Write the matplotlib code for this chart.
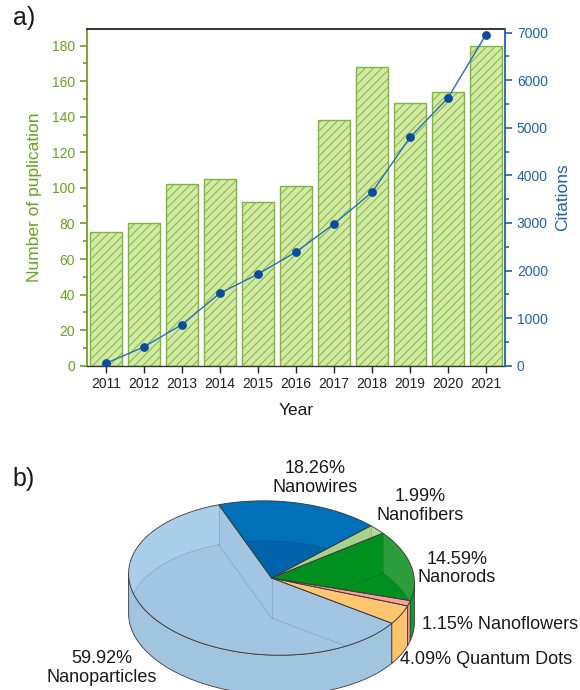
import numpy as np
import matplotlib
matplotlib.use("Agg")
import matplotlib.pyplot as plt
from matplotlib.patches import Polygon
from matplotlib.ticker import MultipleLocator

plt.rcParams['font.family'] = ['Liberation Sans', 'DejaVu Sans']
plt.rcParams['hatch.linewidth'] = 0.7

# ---- data -------------------------------------------------------------
years = [2011, 2012, 2013, 2014, 2015, 2016, 2017, 2018, 2019, 2020, 2021]
publications = [75, 80, 102, 105, 92, 101, 138, 168, 148, 154, 180]
citations = [50, 395, 865, 1525, 1925, 2390, 2980, 3645, 4800, 5630, 6960]

morph_labels = ["Nanoparticles", "Quantum Dots", "Nanoflowers",
                "Nanorods", "Nanofibers", "Nanowires"]
morph_shares = [59.92, 4.09, 1.15, 14.59, 1.99, 18.26]

# ---- styling ----------------------------------------------------------
GREEN = '#6aa121'
BLUE = '#1d62ae'
BAR_FACE = '#d2eaa6'
BAR_EDGE = '#80b63c'

# top face colour, see-through back-wall colour, front wall colour
slice_colors = {
    "Nanoparticles": ('#a2c6e1', '#abcee8', '#a1c4df'),
    "Quantum Dots": ('#ffc571', '#ffc571', '#ffc36c'),
    "Nanoflowers": ('#ff9c9c', '#ff9c9c', '#f58e8e'),
    "Nanorods": ('#00901f', '#2c9c3c', '#119a2c'),
    "Nanofibers": ('#a9d18e', '#b2d89a', '#a9d18e'),
    "Nanowires": ('#0063ab', '#0070b8', '#0063ab'),
}

W, H = 580, 690
fig = plt.figure(figsize=(W / 100, H / 100), dpi=100)

# ---- pie canvas in pixel units (drawn underneath) ---------------------
axp = fig.add_axes([0, 0, 1, 1])
axp.set_xlim(0, W)
axp.set_ylim(H, 0)
axp.axis('off')

CX, CY = 271.5, 578.0
RX, RY = 143.0, 77.0
DEPTH = 40.0
TILT = np.deg2rad(2.5)
START = 113.0
SIL = np.rad2deg(np.arctan((RY / RX) * np.tan(TILT)))


def ell(t_deg, dz=0.0):
    t = np.deg2rad(t_deg)
    x = RX * np.cos(t)
    y = -RY * np.sin(t)
    xr = x * np.cos(TILT) - y * np.sin(TILT)
    yr = x * np.sin(TILT) + y * np.cos(TILT)
    return (CX + xr, CY + yr + dz)


def arc(a, b, dz=0.0):
    n = max(3, int(abs(b - a) * 2) + 2)
    return [ell(t, dz) for t in np.linspace(a, b, n)]


def clip_range(a, b, lo, hi):
    lo2, hi2 = max(a, lo), min(b, hi)
    return (lo2, hi2) if hi2 > lo2 else None


back_ranges = [(SIL, SIL + 180), (SIL + 360, SIL + 540)]
front_ranges = [(SIL + 180, SIL + 360)]
EDGE = '#3c3c3c'

bounds = START + np.concatenate([[0], np.cumsum(morph_shares)]) * 3.6
for lab, a0, a1 in zip(morph_labels, bounds[:-1], bounds[1:]):
    main, strip, wall = slice_colors[lab]
    top_pts = [(CX, CY)] + arc(a0, a1)
    top = Polygon(top_pts, closed=True, fc=main, ec='none', zorder=2)
    axp.add_patch(top)

    # inner back wall showing through the top face
    for lo, hi in back_ranges:
        r = clip_range(a0, a1, lo, hi)
        if r:
            pts = arc(r[0], r[1]) + arc(r[1], r[0], DEPTH)
            p = Polygon(pts, closed=True, fc=strip, ec='none', zorder=2.1)
            axp.add_patch(p)
            p.set_clip_path(top)

    # faint hidden edges of the lower face
    hidden = [arc(a0, a1, DEPTH),
              [(CX, CY + DEPTH), ell(a0, DEPTH)],
              [(CX, CY + DEPTH), ell(a1, DEPTH)],
              [(CX, CY), (CX, CY + DEPTH)],
              [ell(a0), ell(a0, DEPTH)],
              [ell(a1), ell(a1, DEPTH)]]
    for seg in hidden:
        xs, ys = zip(*seg)
        ln, = axp.plot(xs, ys, color=(0, 0, 0, 0.13), lw=0.7, zorder=2.2)
        ln.set_clip_path(top)

    axp.add_patch(Polygon(top_pts, closed=True, fc='none', ec=EDGE,
                          lw=0.6, zorder=2.5))

    # visible front wall
    for lo, hi in front_ranges:
        r = clip_range(a0, a1, lo, hi)
        if r:
            pts = arc(r[0], r[1]) + arc(r[1], r[0], DEPTH)
            axp.add_patch(Polygon(pts, closed=True, fc=wall, ec=EDGE,
                                  lw=0.6, zorder=1.5))

# slice labels
label_layout = {
    "Nanowires": (315, 478, 'center', True),
    "Nanofibers": (420.5, 506, 'center', True),
    "Nanorods": (456.7, 568.5, 'center', True),
    "Nanoflowers": (421.5, 624.5, 'left', False),
    "Quantum Dots": (400.5, 659.5, 'left', False),
    "Nanoparticles": (101.7, 668, 'center', True),
}
for lab, share in zip(morph_labels, morph_shares):
    x, y, ha, two = label_layout[lab]
    txt = f"{share:.2f}%\n{lab}" if two else f"{share:.2f}% {lab}"
    axp.text(x, y, txt, ha=ha, va='center', fontsize=13, color='#1a1a1a',
             linespacing=1.08, zorder=3)

axp.text(24, 479, "b)", ha='center', va='center', fontsize=18, color='#1a1a1a')
axp.text(24, 18, "a)", ha='center', va='center', fontsize=18, color='#1a1a1a')

# ---- bar + line chart -------------------------------------------------
L, R, T, B = 87, 505, 29, 365.67
ax = fig.add_axes([L / W, (H - B) / H, (R - L) / W, (B - T) / H])
ax.bar(years, publications, width=0.82, color=BAR_FACE, edgecolor=BAR_EDGE,
       hatch='////', linewidth=1.0, zorder=2)
ax.set_xlim(2010.5, 2021.5)
ax.set_ylim(0, 189.4)
ax.set_xticks(years)
ax.set_xticklabels([str(y) for y in years])
ax.yaxis.set_major_locator(MultipleLocator(20))
ax.yaxis.set_minor_locator(MultipleLocator(10))
ax.tick_params(axis='y', which='both', colors=GREEN, direction='out',
               labelsize=10, width=1.2)
ax.tick_params(axis='y', which='major', length=5)
ax.tick_params(axis='y', which='minor', length=3)
ax.tick_params(axis='x', colors='#222222', direction='out', length=5,
               width=1.0, labelsize=10)
ax.set_xlabel("Year", fontsize=12.5, color='#1a1a1a', labelpad=8)
ax.set_ylabel("Number of puplication", fontsize=12.5, color=GREEN, labelpad=7)
ax.spines['left'].set_color(GREEN)
ax.spines['left'].set_linewidth(1.3)
ax.spines['bottom'].set_color('#333333')
ax.spines['bottom'].set_linewidth(1.0)
ax.spines['top'].set_color('#111111')
ax.spines['top'].set_linewidth(1.2)
ax.spines['right'].set_visible(False)
ax.patch.set_alpha(0)

ax2 = ax.twinx()
ax2.plot(years, citations, color='#2a6cb6', lw=1.0, marker='o',
         markersize=5.3, markerfacecolor='#0b4d9c', markeredgecolor='#0b4d9c',
         zorder=3)
ax2.set_ylim(0, 7078)
ax2.yaxis.set_major_locator(MultipleLocator(1000))
ax2.yaxis.set_minor_locator(MultipleLocator(500))
ax2.tick_params(axis='y', which='both', colors=BLUE, direction='out',
                labelsize=10, width=1.2)
ax2.tick_params(axis='y', which='major', length=5)
ax2.tick_params(axis='y', which='minor', length=3)
ax2.set_ylabel("Citations", fontsize=12.5, color=BLUE, labelpad=5)
for s in ('left', 'top', 'bottom'):
    ax2.spines[s].set_visible(False)
ax2.spines['right'].set_color(BLUE)
ax2.spines['right'].set_linewidth(1.3)

fig.savefig("out.png", dpi=100)
